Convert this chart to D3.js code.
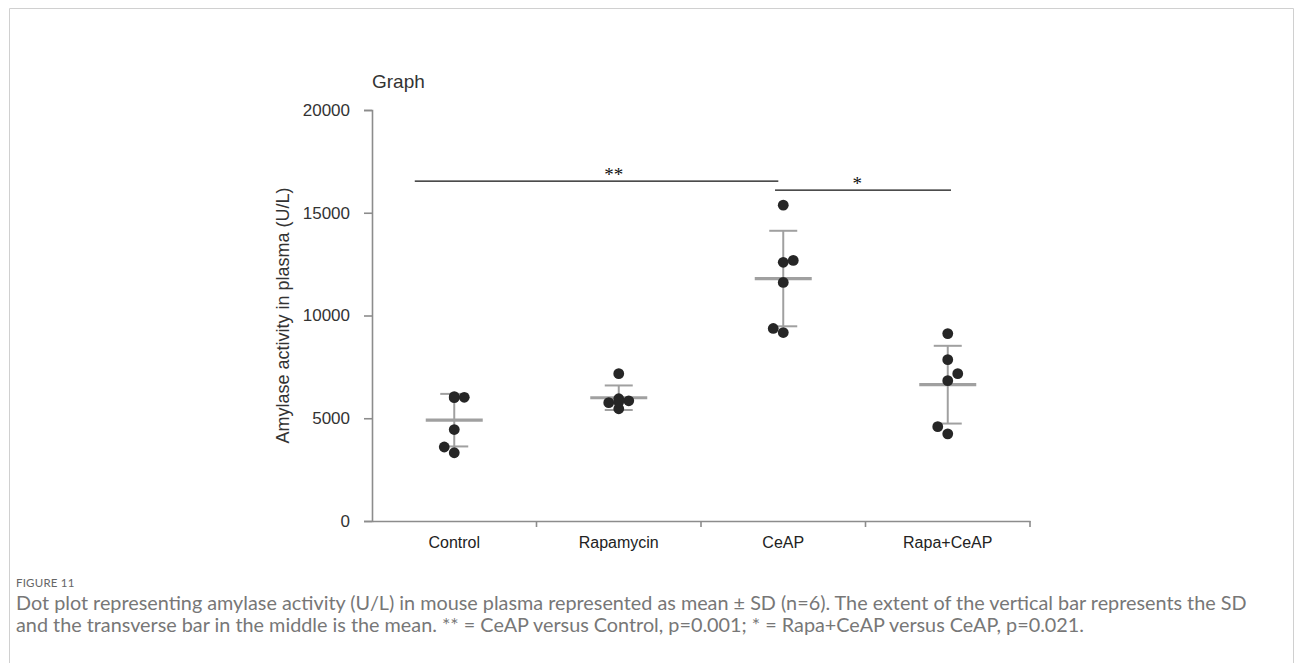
<!DOCTYPE html>
<html>
<head>
<meta charset="utf-8">
<script src="https://cdn.jsdelivr.net/npm/d3@7"></script>
<style>
  html, body { margin: 0; padding: 0; background: #fff; }
  svg { display: block; }
</style>
</head>
<body>
<svg id="fig" width="1295" height="663"></svg>
<script>
// Amylase activity (U/L) per mouse, one array per group (n = 6)
const groups = ["Control", "Rapamycin", "CeAP", "Rapa+CeAP"];
const controlValues   = [6050, 6000, 6020, 4450, 3600, 3320];
const rapamycinValues = [7170, 5950, 5760, 5850, 5460, 5800];
const ceapValues      = [15370, 12590, 12680, 11610, 9370, 9170];
const rapaCeapValues  = [9120, 7850, 7170, 6830, 4590, 4240];
// beeswarm side for each dot (-1 left, 0 centre, +1 right)
const controlSide   = [0, 0, 1, 0, -1, 0];
const rapamycinSide = [0, 0, -1, 1, 0, 0];
const ceapSide      = [0, 0, 1, 0, -1, 0];
const rapaCeapSide  = [0, 0, 1, 0, -1, 0];
const yTicks = [0, 5000, 10000, 15000, 20000];
// significance brackets, ends given in group-index units
const brackets = [
  { from: -0.24, to: 1.97, value: 16540, labelAt: 0.97, label: "**" },
  { from: 1.95, to: 3.02, value: 16100, labelAt: 2.45, label: "*" }
];
const captionTitle = "FIGURE 11";
const captionLines = [
  "Dot plot representing amylase activity (U/L) in mouse plasma represented as mean \u00B1 SD (n=6). The extent of the vertical bar represents the SD",
  "and the transverse bar in the middle is the mean. ** = CeAP versus Control, p=0.001; * = Rapa+CeAP versus CeAP, p=0.021."
];

const valuesByGroup = [controlValues, rapamycinValues, ceapValues, rapaCeapValues];
const sideByGroup = [controlSide, rapamycinSide, ceapSide, rapaCeapSide];

const svg = d3.select("#fig");

// panel frame
svg.append("path")
  .attr("d", "M9.5,700 V8.5 H1293.5 V700")
  .attr("fill", "none").attr("stroke", "#d0d0d0").attr("stroke-width", 1);

const plotLeft = 372, plotRight = 1030, plotTop = 110, plotBottom = 521;
const x = d3.scaleBand().domain(groups).range([plotLeft, plotRight]).padding(0);
const xc = g => x(g) + x.bandwidth() / 2;
const xi = d3.scaleLinear().domain([0, groups.length - 1]).range([xc(groups[0]), xc(groups[groups.length - 1])]);
const y = d3.scaleLinear().domain([0, 20000]).range([plotBottom, plotTop]);

const axisColor = "#8c8c8c";
const fontChart = "'Liberation Sans', Arial, sans-serif";

// title
svg.append("text").attr("x", plotLeft).attr("y", 88)
  .attr("font-family", fontChart).attr("font-size", 19).attr("fill", "#333")
  .text("Graph");

// y axis
const yAxis = svg.append("g").attr("transform", `translate(${plotLeft},0)`)
  .call(d3.axisLeft(y).tickValues(yTicks).tickSize(8).tickPadding(14).tickFormat(d3.format("d")));
yAxis.select(".domain").attr("stroke", axisColor).attr("stroke-width", 1.6);
yAxis.selectAll(".tick line").attr("stroke", axisColor).attr("stroke-width", 1.6);
yAxis.selectAll(".tick text").attr("font-family", fontChart).attr("font-size", 17).attr("fill", "#333");

svg.append("text")
  .attr("transform", `translate(289,${y(10000)}) rotate(-90)`)
  .attr("text-anchor", "middle")
  .attr("font-family", fontChart).attr("font-size", 18).attr("fill", "#333")
  .text("Amylase activity in plasma (U/L)");

// x axis: labels at group centres, ticks at group boundaries
const xAxis = svg.append("g").attr("transform", `translate(0,${plotBottom})`)
  .call(d3.axisBottom(x).tickSize(0).tickPadding(16));
xAxis.select(".domain").attr("stroke", axisColor).attr("stroke-width", 1.6);
xAxis.selectAll(".tick text").attr("font-family", fontChart).attr("font-size", 16).attr("fill", "#222");
xAxis.selectAll("line.sep").data(groups).join("line").attr("class", "sep")
  .attr("x1", g => x(g) + x.bandwidth()).attr("x2", g => x(g) + x.bandwidth())
  .attr("y1", 0).attr("y2", 6)
  .attr("stroke", axisColor).attr("stroke-width", 1.6);

// mean and SD bars
const stats = groups.map((g, i) => ({
  group: g,
  mean: d3.mean(valuesByGroup[i]),
  sd: d3.deviation(valuesByGroup[i])
}));
const barColor = "#a0a0a0";
const gStats = svg.append("g");
stats.forEach(s => {
  const cx = xc(s.group);
  gStats.append("line").attr("x1", cx).attr("x2", cx)
    .attr("y1", y(s.mean + s.sd)).attr("y2", y(s.mean - s.sd))
    .attr("stroke", barColor).attr("stroke-width", 2);
  [s.mean + s.sd, s.mean - s.sd].forEach(v => {
    gStats.append("line").attr("x1", cx - 14).attr("x2", cx + 14)
      .attr("y1", y(v)).attr("y2", y(v))
      .attr("stroke", barColor).attr("stroke-width", 2);
  });
  gStats.append("line").attr("x1", cx - 28.5).attr("x2", cx + 28.5)
    .attr("y1", y(s.mean)).attr("y2", y(s.mean))
    .attr("stroke", barColor).attr("stroke-width", 3.2);
});

// individual animals
const dotR = 5.4;
const points = [];
groups.forEach((g, i) => valuesByGroup[i].forEach((v, j) => points.push({ group: g, value: v, side: sideByGroup[i][j] })));
svg.append("g").selectAll("circle").data(points).join("circle")
  .attr("cx", d => xc(d.group) + d.side * 10)
  .attr("cy", d => y(d.value))
  .attr("r", dotR)
  .attr("fill", "#262626");

// significance brackets
const gSig = svg.append("g");
brackets.forEach(b => {
  gSig.append("line").attr("x1", xi(b.from)).attr("x2", xi(b.to))
    .attr("y1", y(b.value)).attr("y2", y(b.value))
    .attr("stroke", "#111").attr("stroke-width", 1.3);
  gSig.append("text").attr("x", xi(b.labelAt)).attr("y", y(b.value))
    .attr("text-anchor", "middle")
    .attr("font-family", "'Liberation Serif', 'Times New Roman', serif")
    .attr("font-size", 19).attr("fill", "#111")
    .text(b.label);
});

// caption
const capFont = "Lato, 'Open Sans', sans-serif";
svg.append("text").attr("x", 16).attr("y", 587)
  .attr("font-family", capFont).attr("font-size", 11.5).attr("fill", "#666")
  .attr("letter-spacing", 0.2)
  .text(captionTitle);
const capText = svg.selectAll("text.cap").data(captionLines).join("text").attr("class", "cap")
  .attr("x", 16).attr("y", (d, i) => 610 + i * 22)
  .attr("font-family", capFont).attr("font-size", 15.5).attr("fill", "#777")
  .text(d => d);
// size the caption so the first line spans the text column
const firstW = capText.node().getComputedTextLength();
const targetW = 1247 - 16;
const fs = 15.5 * targetW / firstW;
capText.attr("font-size", fs);
</script>
</body>
</html>
